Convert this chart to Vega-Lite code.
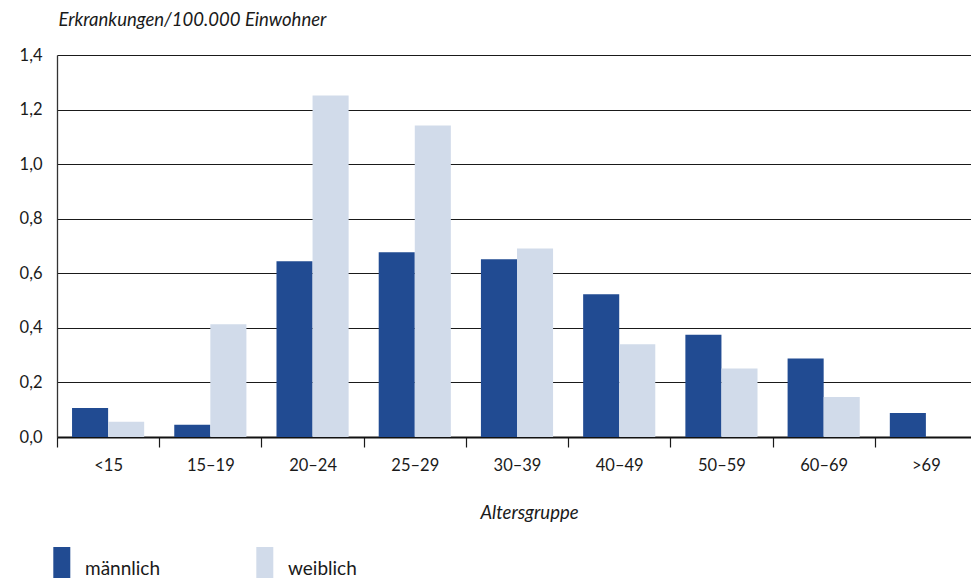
{
  "$schema": "https://vega.github.io/schema/vega-lite/v6.json",
  "autosize": {"type": "none"},
  "padding": {"left": 57, "top": 55, "right": 0, "bottom": 141},
  "width": 914,
  "height": 382,
  "background": "white",
  "config": {
    "font": "Lato",
    "view": {"stroke": null},
    "axis": {"labelFont": "Lato", "titleFont": "Lato", "labelColor": "#1a1a1a", "titleColor": "#1a1a1a"}
  },
  "data": {
    "values": [
      {"gruppe": "<15", "geschlecht": "männlich", "wert": 0.106},
      {"gruppe": "<15", "geschlecht": "weiblich", "wert": 0.056},
      {"gruppe": "15–19", "geschlecht": "männlich", "wert": 0.045},
      {"gruppe": "15–19", "geschlecht": "weiblich", "wert": 0.413},
      {"gruppe": "20–24", "geschlecht": "männlich", "wert": 0.644},
      {"gruppe": "20–24", "geschlecht": "weiblich", "wert": 1.252},
      {"gruppe": "25–29", "geschlecht": "männlich", "wert": 0.677},
      {"gruppe": "25–29", "geschlecht": "weiblich", "wert": 1.142},
      {"gruppe": "30–39", "geschlecht": "männlich", "wert": 0.651},
      {"gruppe": "30–39", "geschlecht": "weiblich", "wert": 0.691},
      {"gruppe": "40–49", "geschlecht": "männlich", "wert": 0.523},
      {"gruppe": "40–49", "geschlecht": "weiblich", "wert": 0.340},
      {"gruppe": "50–59", "geschlecht": "männlich", "wert": 0.375},
      {"gruppe": "50–59", "geschlecht": "weiblich", "wert": 0.251},
      {"gruppe": "60–69", "geschlecht": "männlich", "wert": 0.288},
      {"gruppe": "60–69", "geschlecht": "weiblich", "wert": 0.147},
      {"gruppe": ">69", "geschlecht": "männlich", "wert": 0.088}
    ]
  },
  "mark": {"type": "bar"},
  "encoding": {
    "x": {
      "field": "gruppe",
      "type": "nominal",
      "sort": ["<15", "15–19", "20–24", "25–29", "30–39", "40–49", "50–59", "60–69", ">69"],
      "scale": {"range": [0, 920], "paddingInner": 0, "paddingOuter": 0},
      "axis": {
        "title": "Altersgruppe",
        "titleFontStyle": "italic",
        "titleFontWeight": "normal",
        "titleFontSize": 18.5,
        "titleX": 472,
        "titleY": 81,
        "titleBaseline": "alphabetic",
        "labelAngle": 0,
        "labelFontSize": 16.5,
        "labelPadding": 10,
        "tickBand": "extent",
        "tickSize": 10,
        "tickColor": "#1a1a1a",
        "tickWidth": 1.2,
        "domainColor": "#111111",
        "domainWidth": 2,
        "grid": false
      }
    },
    "xOffset": {
      "field": "geschlecht",
      "type": "nominal",
      "scale": {"paddingInner": 0, "paddingOuter": 0.417}
    },
    "y": {
      "field": "wert",
      "type": "quantitative",
      "scale": {"domain": [0, 1.4], "nice": false},
      "axis": {
        "title": "Erkrankungen/100.000 Einwohner",
        "titleAngle": 0,
        "titleAlign": "left",
        "titleBaseline": "alphabetic",
        "titleX": 1,
        "titleY": -30,
        "titleFontStyle": "italic",
        "titleFontWeight": "normal",
        "titleFontSize": 18.5,
        "values": [0, 0.2, 0.4, 0.6, 0.8, 1.0, 1.2, 1.4],
        "labelExpr": "replace(format(datum.value, '.1f'), '.', ',')",
        "labelFontSize": 16.5,
        "labelPadding": 15,
        "ticks": false,
        "domainColor": "#333333",
        "domainWidth": 1.3,
        "grid": true,
        "gridColor": "#1a1a1a",
        "gridWidth": 1.1
      }
    },
    "color": {
      "field": "geschlecht",
      "type": "nominal",
      "scale": {"domain": ["männlich", "weiblich"], "range": ["#214b92", "#d1dbea"]},
      "legend": {
        "title": null,
        "orient": "none",
        "legendX": -12.2,
        "legendY": 496.5,
        "direction": "horizontal",
        "padding": 0,
        "symbolType": "M-0.5,-1.28 h1 v2.6 h-1 Z",
        "symbolSize": 1156,
        "symbolStrokeWidth": 0,
        "symbolOpacity": 1,
        "labelFontSize": 19,
        "labelOffset": 6.2,
        "labelBaseline": "middle",
        "labelColor": "#1a1a1a",
        "columnPadding": 87
      }
    }
  }
}
